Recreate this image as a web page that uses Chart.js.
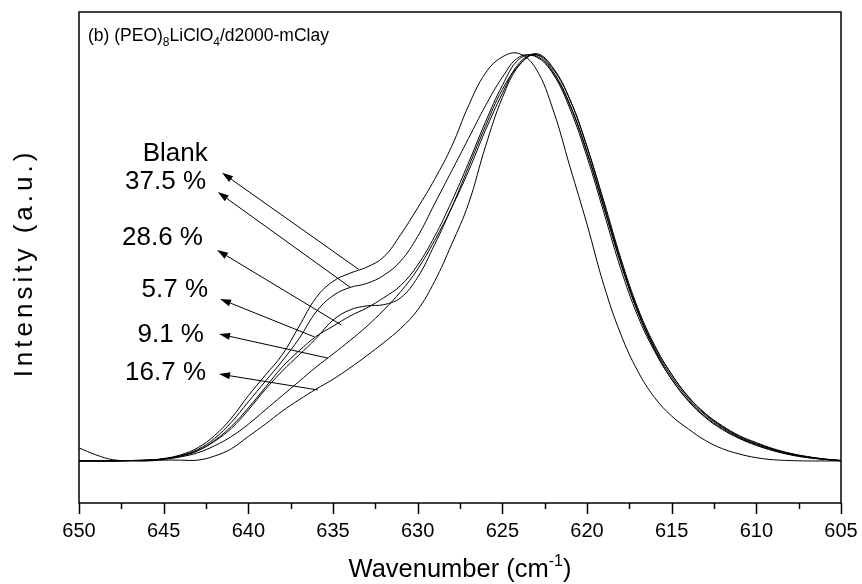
<!DOCTYPE html>
<html lang="en">

<head>
    <meta charset="UTF-8">
    <title>(PEO)8LiClO4/d2000-mClay</title>
    <script src="https://cdn.jsdelivr.net/npm/chart.js"></script>
    <style>
        html, body { margin: 0; padding: 0; background: #fff; }
        #box { width: 862px; height: 584px; }
    </style>
</head>

<body>
    <div id="box"><canvas id="ramanChart"></canvas></div>
</body>
<script>
    // wavenumber axis (cm-1), 650 -> 605
    const wavenumbers = [650, 649, 648, 647, 646, 645, 644, 643, 642, 641, 640, 639, 638, 637, 636, 635,
        634, 633, 632, 631, 630, 629, 628, 627, 626, 625, 624, 623, 622, 621, 620, 619, 618, 617, 616, 615,
        614, 613, 612, 611, 610, 609, 608, 607, 606, 605];

    // normalised intensity
    const blank = [0, 0, 0, 0.001, 0.002, 0.006, 0.015, 0.032, 0.062, 0.105, 0.16, 0.21, 0.26, 0.33, 0.40, 0.44,
        0.46, 0.475, 0.50, 0.555, 0.62, 0.69, 0.77, 0.87, 0.95, 0.99, 0.998, 0.96, 0.86, 0.72, 0.58, 0.43, 0.31, 0.22, 0.155, 0.11,
        0.078, 0.05, 0.03, 0.017, 0.008, 0.003, 0.001, 0, 0, 0];
    const clay375 = [0, 0, 0, 0.001, 0.002, 0.005, 0.013, 0.028, 0.055, 0.095, 0.145, 0.195, 0.245, 0.30, 0.365, 0.405,
        0.425, 0.435, 0.455, 0.49, 0.55, 0.63, 0.71, 0.79, 0.87, 0.94, 0.99, 0.99, 0.948, 0.862, 0.745, 0.608, 0.47, 0.355, 0.268, 0.20,
        0.148, 0.108, 0.079, 0.056, 0.04, 0.026, 0.016, 0.009, 0.004, 0];
    const clay286 = [0, 0, 0, 0.001, 0.002, 0.005, 0.012, 0.025, 0.048, 0.08, 0.125, 0.175, 0.22, 0.26, 0.30, 0.345,
        0.37, 0.38, 0.383, 0.40, 0.45, 0.53, 0.62, 0.72, 0.82, 0.91, 0.97, 0.996, 0.96, 0.884, 0.77, 0.636, 0.496, 0.375, 0.283, 0.212,
        0.156, 0.115, 0.084, 0.06, 0.043, 0.029, 0.018, 0.01, 0.005, 0.001];
    const clay57 = [0, 0, 0, 0.001, 0.002, 0.005, 0.012, 0.025, 0.05, 0.085, 0.13, 0.18, 0.23, 0.27, 0.305, 0.33,
        0.355, 0.375, 0.40, 0.43, 0.48, 0.55, 0.635, 0.73, 0.83, 0.92, 0.985, 0.992, 0.95, 0.87, 0.755, 0.62, 0.485, 0.365, 0.272, 0.2,
        0.146, 0.106, 0.077, 0.055, 0.038, 0.025, 0.015, 0.008, 0.004, 0.001];
    const clay91 = [0.032, 0.015, 0.003, 0.001, 0.001, 0.004, 0.01, 0.02, 0.037, 0.06, 0.09, 0.125, 0.16, 0.195, 0.23, 0.262,
        0.295, 0.33, 0.37, 0.415, 0.47, 0.54, 0.62, 0.71, 0.81, 0.9, 0.975, 0.995, 0.954, 0.873, 0.758, 0.622, 0.483, 0.365, 0.275, 0.206,
        0.152, 0.112, 0.082, 0.058, 0.041, 0.028, 0.017, 0.01, 0.004, 0.001];
    const clay167 = [0, 0, 0, 0, 0, 0.002, 0.002, 0.002, 0.012, 0.03, 0.06, 0.09, 0.122, 0.15, 0.176, 0.20,
        0.228, 0.258, 0.29, 0.325, 0.37, 0.44, 0.53, 0.63, 0.77, 0.89, 0.97, 0.998, 0.963, 0.885, 0.77, 0.63, 0.49, 0.37, 0.28, 0.212,
        0.157, 0.116, 0.086, 0.062, 0.045, 0.03, 0.019, 0.011, 0.005, 0.001];

    const seriesNames = ['Blank', '37.5 %', '28.6 %', '5.7 %', '9.1 %', '16.7 %'];
    const seriesData = [blank, clay375, clay286, clay57, clay91, clay167];

    // label text position (right edge) and arrow from curve to label, in data units
    const labelX = [642.4, 642.5, 642.68, 642.38, 642.62, 642.5];
    const labelY = [0.752, 0.684, 0.547, 0.419, 0.309, 0.216];
    const arrowFromX = [633.5, 634.0, 634.5, 636.1, 635.3, 635.9];
    const arrowFromY = [0.47, 0.426, 0.333, 0.304, 0.252, 0.174];
    const arrowToX = [641.55, 641.8, 641.85, 641.67, 641.73, 641.73];
    const arrowToY = [0.706, 0.659, 0.517, 0.397, 0.311, 0.213];

    const xTicks = [650, 645, 640, 635, 630, 625, 620, 615, 610, 605];

    const FONT = '"Liberation Sans", Arial, sans-serif';

    // frame, tick marks, arrows, labels and titles
    const decor = {
        id: 'decor',
        afterDatasetsDraw(chart) {
            const { ctx, chartArea: a, scales: { x, y } } = chart;
            ctx.save();
            ctx.strokeStyle = '#000';
            ctx.fillStyle = '#000';

            // frame
            ctx.lineWidth = 1.5;
            ctx.strokeRect(a.left, a.top, a.right - a.left, a.bottom - a.top);

            // tick marks, major + minor, outward
            for (let v = 605; v <= 650; v += 2.5) {
                const px = Math.round(x.getPixelForValue(v)) + 0.5;
                const len = xTicks.includes(v) ? 11 : 6;
                ctx.beginPath();
                ctx.moveTo(px, a.bottom);
                ctx.lineTo(px, a.bottom + len);
                ctx.stroke();
            }

            // arrows
            ctx.lineWidth = 1;
            for (let i = 0; i < seriesNames.length; i++) {
                const x0 = x.getPixelForValue(arrowFromX[i]), y0 = y.getPixelForValue(arrowFromY[i]);
                const x1 = x.getPixelForValue(arrowToX[i]), y1 = y.getPixelForValue(arrowToY[i]);
                const ang = Math.atan2(y1 - y0, x1 - x0);
                const hl = 11, hw = 3.5;
                const bx = x1 - hl * Math.cos(ang), by = y1 - hl * Math.sin(ang);
                ctx.beginPath();
                ctx.moveTo(x0, y0);
                ctx.lineTo(bx, by);
                ctx.stroke();
                ctx.beginPath();
                ctx.moveTo(x1, y1);
                ctx.lineTo(bx + hw * Math.sin(ang), by - hw * Math.cos(ang));
                ctx.lineTo(bx - hw * Math.sin(ang), by + hw * Math.cos(ang));
                ctx.closePath();
                ctx.fill();
            }

            // series labels
            ctx.font = '26px ' + FONT;
            ctx.textAlign = 'right';
            ctx.textBaseline = 'middle';
            for (let i = 0; i < seriesNames.length; i++) {
                ctx.fillText(seriesNames[i], x.getPixelForValue(labelX[i]), y.getPixelForValue(labelY[i]));
            }

            // panel title with subscripts
            ctx.textAlign = 'left';
            ctx.textBaseline = 'alphabetic';
            let tx = a.left + 9;
            const ty = a.top + 29;
            const parts = [['(b) (PEO)', 0], ['8', 1], ['LiClO', 0], ['4', 1], ['/d2000-mClay', 0]];
            for (const [t, sub] of parts) {
                ctx.font = (sub ? '12px ' : '17.5px ') + FONT;
                ctx.fillText(t, tx, ty + (sub ? 5 : 0));
                tx += ctx.measureText(t).width;
            }

            // x axis title with superscript
            const big = '25.5px ' + FONT, small = '16px ' + FONT;
            ctx.font = big;
            const w1 = ctx.measureText('Wavenumber (cm').width, w3 = ctx.measureText(')').width;
            ctx.font = small;
            const w2 = ctx.measureText('-1').width;
            let sx = (a.left + a.right) / 2 - (w1 + w2 + w3) / 2;
            const sy = 577;
            ctx.font = big;
            ctx.fillText('Wavenumber (cm', sx, sy);
            ctx.font = small;
            ctx.fillText('-1', sx + w1, sy - 11);
            ctx.font = big;
            ctx.fillText(')', sx + w1 + w2, sy);

            // y axis title
            ctx.translate(32, 265);
            ctx.rotate(-Math.PI / 2);
            ctx.textAlign = 'center';
            ctx.font = '26px ' + FONT;
            ctx.letterSpacing = '4px';
            ctx.fillText('Intensity (a.u.)', 2, 0);
            ctx.letterSpacing = '0px';

            ctx.restore();
        }
    };

    const ctx = document.getElementById('ramanChart');

    new Chart(ctx, {
        type: 'line',
        data: {
            datasets: seriesData.map((vals, i) => ({
                label: seriesNames[i],
                data: wavenumbers.map((w, j) => ({ x: w, y: vals[j] })),
                borderColor: '#000',
                borderWidth: 1,
                pointRadius: 0,
                fill: false,
                tension: 0.4
            }))
        },
        options: {
            responsive: true,
            maintainAspectRatio: false,
            animation: false,
            layout: { padding: { left: 79, right: 21, top: 12, bottom: 0 } },
            plugins: {
                legend: { display: false },
                tooltip: { enabled: false }
            },
            scales: {
                x: {
                    type: 'linear',
                    reverse: true,
                    min: 605,
                    max: 650,
                    grid: { display: false, drawTicks: false },
                    border: { display: false },
                    ticks: {
                        stepSize: 5,
                        autoSkip: false,
                        maxRotation: 0,
                        padding: 16,
                        color: '#000',
                        font: { family: FONT, size: 20 }
                    },
                    afterFit: (scale) => {
                        scale.height = 81;
                        // edge labels fit inside the layout padding
                        scale.paddingLeft = 0;
                        scale.paddingRight = 0;
                    }
                },
                y: {
                    display: false,
                    min: -0.103,
                    max: 1.1
                }
            }
        },
        plugins: [decor]
    });
</script>

</html>
